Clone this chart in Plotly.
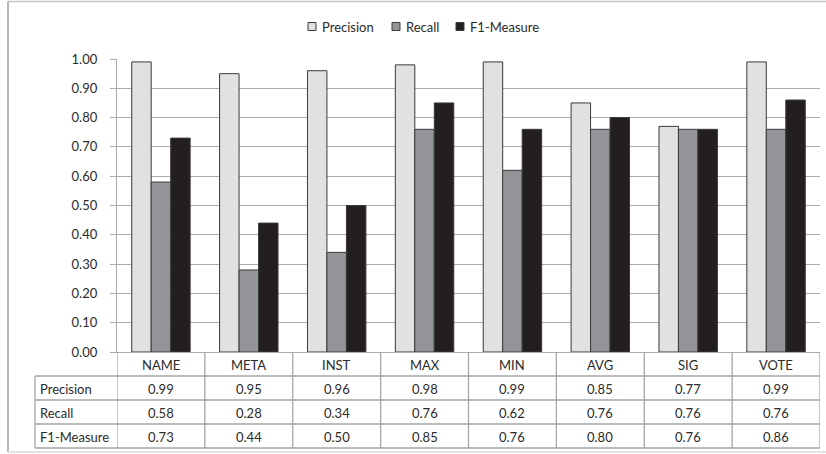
import plotly.graph_objects as go

categories = ["NAME", "META", "INST", "MAX", "MIN", "AVG", "SIG", "VOTE"]
series_names = ["Precision", "Recall", "F1-Measure"]
precision = [0.99, 0.95, 0.96, 0.98, 0.99, 0.85, 0.77, 0.99]
recall = [0.58, 0.28, 0.34, 0.76, 0.62, 0.76, 0.76, 0.76]
f1_measure = [0.73, 0.44, 0.50, 0.85, 0.76, 0.80, 0.76, 0.86]
y_ticks = [0.0, 0.1, 0.2, 0.3, 0.4, 0.5, 0.6, 0.7, 0.8, 0.9, 1.0]

series_values = [precision, recall, f1_measure]
colors = ["#E1E1E3", "#939598", "#231F20"]

W, H = 826, 454
L, R, T, B = 117, 820, 59, 352
FONT = "Lato, Carlito, 'Liberation Sans', sans-serif"
TXT = "#2B2B2B"
GRID = "#ABABAB"
TBL = "#A6A6A6"
FS = 13

def px_x(px):
    return (px - L) / (R - L)

def px_y(py):
    return (B - py) / (B - T)

xs = list(range(len(categories)))
fig = go.Figure()
for name, vals, col in zip(series_names, series_values, colors):
    fig.add_trace(go.Bar(
        x=xs, y=vals, name=name,
        marker=dict(color=col, line=dict(color="#3A3A3A", width=1)),
        showlegend=False, hoverinfo="skip",
    ))

shapes = []
annotations = []

rows_px = [B, 376, 400, 424, 448]
left_px = 35
for ry in rows_px[1:]:
    shapes.append(dict(type="line", xref="paper", yref="paper",
                       x0=px_x(left_px), x1=1, y0=px_y(ry), y1=px_y(ry),
                       line=dict(color=TBL, width=1.3)))
for k in range(len(categories) + 1):
    shapes.append(dict(type="line", xref="x", yref="paper",
                       x0=k - 0.5, x1=k - 0.5, y0=px_y(rows_px[-1]), y1=0,
                       line=dict(color=TBL, width=1.3)))
shapes.append(dict(type="line", xref="paper", yref="paper",
                   x0=px_x(left_px), x1=px_x(left_px), y0=px_y(rows_px[-1]), y1=px_y(rows_px[1]),
                   line=dict(color=TBL, width=1.3)))

for i, c in enumerate(categories):
    annotations.append(dict(x=i, y=px_y((rows_px[0] + rows_px[1]) / 2 + 1), xref="x", yref="paper",
                            text=c, showarrow=False, font=dict(family=FONT, size=FS, color=TXT),
                            xanchor="center", yanchor="middle"))
for r, (name, vals) in enumerate(zip(series_names, series_values)):
    cy = px_y((rows_px[r + 1] + rows_px[r + 2]) / 2 + 1)
    annotations.append(dict(x=px_x(left_px + 3), y=cy, xref="paper", yref="paper",
                            text=name, showarrow=False, font=dict(family=FONT, size=FS, color=TXT),
                            xanchor="left", yanchor="middle"))
    for i, v in enumerate(vals):
        annotations.append(dict(x=i, y=cy, xref="x", yref="paper",
                                text=f"{v:.2f}", showarrow=False,
                                font=dict(family=FONT, size=FS, color=TXT),
                                xanchor="center", yanchor="middle"))

leg_items = [(308, 320), (392, 404), (456, 468)]
for (sx, tx), name, col in zip(leg_items, series_names, colors):
    shapes.append(dict(type="rect", xref="paper", yref="paper",
                       x0=px_x(sx), x1=px_x(sx + 8), y0=px_y(30.5), y1=px_y(22.5),
                       fillcolor=col, line=dict(color="#3A3A3A", width=1)))
    annotations.append(dict(x=px_x(tx), y=px_y(27), xref="paper", yref="paper",
                            text=name, showarrow=False, font=dict(family=FONT, size=FS, color=TXT),
                            xanchor="left", yanchor="middle"))

# chart frame (top, left, bottom)
shapes.append(dict(type="line", xref="paper", yref="paper",
                   x0=px_x(8), x1=px_x(826), y0=px_y(1.5), y1=px_y(1.5),
                   line=dict(color="#C8C8C8", width=1.5)))
shapes.append(dict(type="line", xref="paper", yref="paper",
                   x0=px_x(8), x1=px_x(8), y0=px_y(1.5), y1=px_y(452),
                   line=dict(color="#A0A0A0", width=1.5)))
shapes.append(dict(type="line", xref="paper", yref="paper",
                   x0=px_x(8), x1=px_x(826), y0=px_y(452), y1=px_y(452),
                   line=dict(color="#DADADA", width=1.5)))

fig.update_layout(
    width=W, height=H,
    margin=dict(l=L, r=W - R, t=T, b=H - B, pad=0),
    paper_bgcolor="white", plot_bgcolor="white",
    barmode="group", bargap=0.335, bargroupgap=0,
    font=dict(family=FONT, size=FS, color=TXT),
    shapes=shapes, annotations=annotations,
    hovermode=False,
    xaxis=dict(range=[-0.5, len(categories) - 0.5], showticklabels=False, ticks="",
               showgrid=False, zeroline=False, showline=True, linecolor=GRID, linewidth=1.3,
               fixedrange=True),
    yaxis=dict(range=[0, 1.0], tickvals=y_ticks, tickformat=".2f",
               showgrid=True, gridcolor=GRID, gridwidth=1.3, zeroline=False,
               showline=True, linecolor=GRID, linewidth=1.3,
               ticks="outside", ticklen=6, tickcolor=GRID, tickwidth=1.3,
               ticklabelstandoff=10,
               tickfont=dict(family=FONT, size=FS, color=TXT), fixedrange=True),
)

fig.write_html("out.html", config={"displayModeBar": False},
               post_script="document.body.style.margin='0';document.body.style.overflow='hidden';")
